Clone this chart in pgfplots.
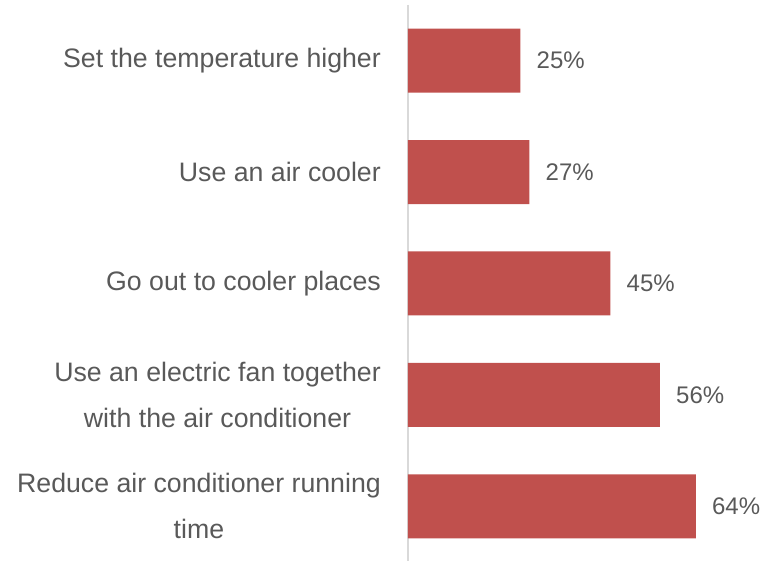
\documentclass[border=0pt]{standalone}
\usepackage{fontspec}
\setmainfont{Liberation Sans}
\usepackage{pgfplots}
\pgfplotsset{compat=1.18}
\definecolor{barred}{HTML}{C0504D}
\definecolor{txt}{HTML}{595959}
\definecolor{axisgray}{HTML}{D9D9D9}
\begin{document}
\begin{tikzpicture}
\begin{axis}[
  at={(0pt,-1pt)}, anchor=south west,
  scale only axis, width=364pt, height=557pt,
  xbar, bar width=64pt,
  xmin=0, xmax=80.9,
  ymin=-0.5, ymax=4.5, y dir=reverse,
  axis x line=none,
  axis y line=left,
  y axis line style={-, draw=axisgray, line width=1.5pt},
  ytick={0,...,4},
  yticklabels={Set the temperature higher, Use an air cooler, Go out to cooler places,
    {Use an electric fan together\\with the air conditioner},
    {Reduce air conditioner running\\time}},
  major tick length=0pt,
  yticklabel style={font=\fontsize{26.7}{46}\selectfont, text=txt, align=center,
    inner sep=0pt, xshift=-27pt},
  /pgf/number format/assume math mode=true,
  nodes near coords={\pgfmathprintnumber{\pgfplotspointmeta}\%},
  nodes near coords style={font=\fontsize{24}{28}\selectfont, text=txt,
    anchor=west, inner sep=0pt, xshift=16pt},
  clip=false,
]
\addplot[fill=barred, draw=none] coordinates {(25,0) (27,1) (45,2) (56,3) (64,4)};
\end{axis}
\pgfresetboundingbox
\path[use as bounding box] (-408pt,0pt) rectangle (364pt,561pt);
\end{tikzpicture}
\end{document}
